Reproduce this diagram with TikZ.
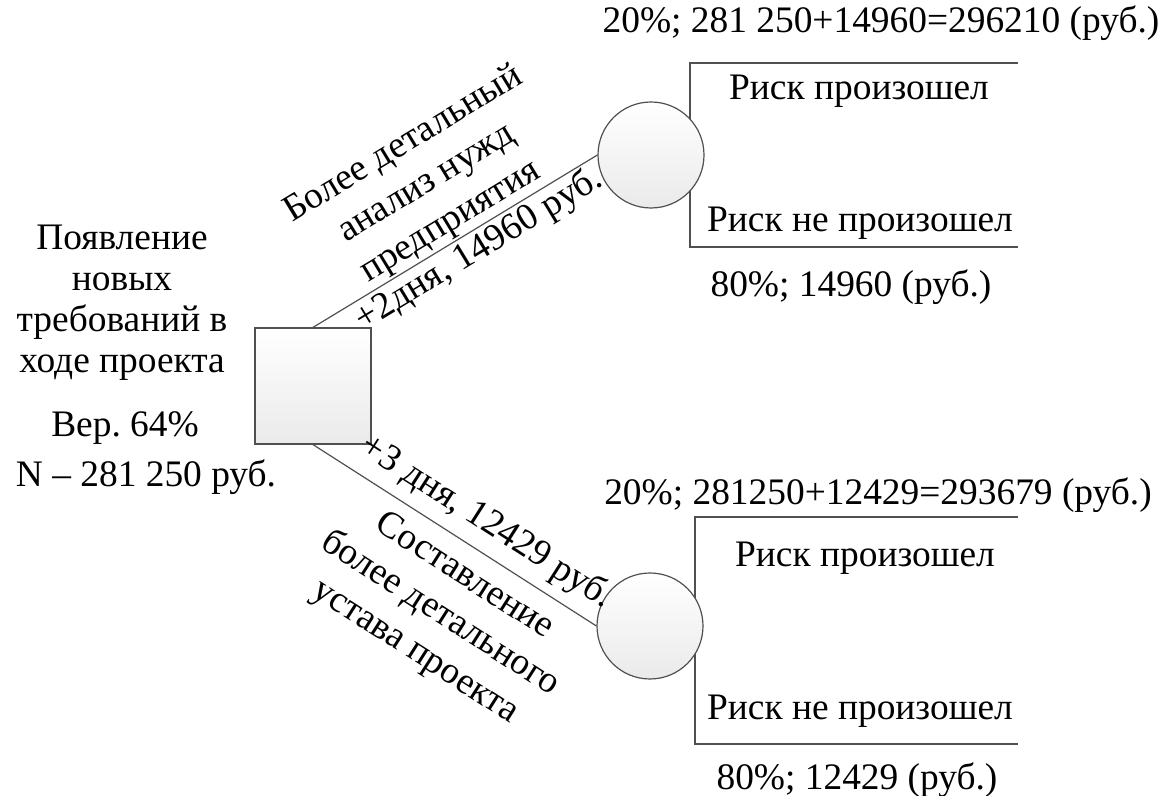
\documentclass[tikz,border=0pt]{standalone}
\usepackage{fontspec}
\setmainfont{Liberation Serif}
\usetikzlibrary{positioning}
\definecolor{edge}{RGB}{80, 80, 80}
\definecolor{shade}{RGB}{234, 234, 234}

\begin{document}
\begin{tikzpicture}[x=0.5pt, y=-0.5pt, % 1 unidade = 1 pixel da figura
    font=\fontsize{18.7}{20.5}\selectfont,
    decision/.style={draw=edge, line width=0.6pt, minimum size=58pt, inner sep=0pt,
                     top color=white, bottom color=shade}, % quadrado de decisão
    chance/.style={circle, draw=edge, line width=0.6pt, minimum size=53pt, inner sep=0pt,
                   top color=white, bottom color=shade}, % círculo de risco
    branch/.style={draw=edge, line width=0.6pt},
    lbl/.style={anchor=base, inner sep=0pt},
    slope lbl/.style={midway, sloped, inner sep=0pt, align=center,
                      font=\fontsize{18.7}{22.5}\selectfont},
  ]
  \useasboundingbox (0,0) rectangle (1164,796);

  % colchetes dos resultados
  \coordinate (aTop) at (1018,63);
  \coordinate (aCorner) at (690,247);
  \coordinate (aBot) at (1018,247);
  \coordinate (bTop) at (1018,517);
  \coordinate (bCorner) at (695,744);
  \coordinate (bBot) at (1018,744);
  \draw[branch] (aTop) -| (aCorner) -- (aBot);
  \draw[branch] (bTop) -| (bCorner) -- (bBot);

  \node[decision] (dec) at (313,386) {};
  \node[chance] (riskA) at (651,155) {};
  \node[chance] (riskB) at (650,626) {};

  \node[lbl, align=center] (event) at (122,373) % base = última linha
    {Появление\\новых\\требований в\\ходе проекта};
  \node[lbl] (prob) at (125,437) {Вер.\ 64\%};
  \node[lbl] (loss) at (146,487) {N – 281 250 руб.};

  \node[lbl] (aHead) at (881,33) {20\%; 281 250+14960=296210 (руб.)};
  \node[lbl] (aYes) at (859,100) {Риск произошел};
  \node[lbl] (aNo) at (860,232) {Риск не произошел};
  \node[lbl] (aFoot) at (851,297) {80\%; 14960 (руб.)};

  \node[lbl] (bHead) at (878,505) {20\%; 281250+12429=293679 (руб.)};
  \node[lbl] (bYes) at (865,567) {Риск произошел};
  \node[lbl] (bNo) at (860,720) {Риск не произошел};
  \node[lbl] (bFoot) at (857,790) {80\%; 12429 (руб.)};

  \draw[branch] (dec.north) -- (riskA.west)
    node[slope lbl, xshift=8pt, yshift=-10pt] (aCost) {+2дня, 14960 руб.}
    node[slope lbl, xshift=3pt, yshift=32pt] (aAct)
      {Более детальный\\анализ нужд\\предприятия};
  \draw[branch] (dec.south) -- (riskB.west)
    node[slope lbl, xshift=10pt, yshift=14pt] (bCost) {+3 дня, 12429 руб.}
    node[slope lbl, xshift=15pt, yshift=-37.5pt] (bAct)
      {Составление\\более детального\\устава проекта};
\end{tikzpicture}
\end{document}
